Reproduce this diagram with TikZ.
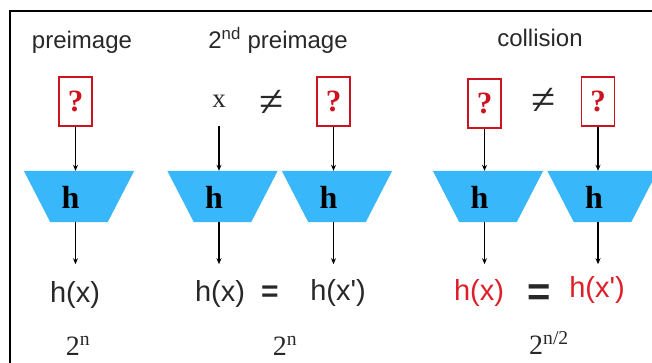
\documentclass[tikz,border=0pt]{standalone}
\usepackage{fontspec}
\setmainfont{Liberation Serif}
\newfontfamily\sansf{Liberation Sans}
\usetikzlibrary{arrows.meta,backgrounds}
\definecolor{hblue}{RGB}{56,184,250}
\definecolor{boxred}{RGB}{204,20,30}
\definecolor{txtred}{RGB}{222,30,40}
\definecolor{txtgray}{RGB}{40,40,40}
\begin{document}
\begin{tikzpicture}[x=1pt,y=-1pt,
  qbox/.style={draw=boxred,line width=1.4pt,minimum width=33pt,minimum height=49pt,inner sep=0pt,
    font=\fontsize{31}{31}\selectfont\bfseries,text=boxred},
  ghost/.style={minimum width=33pt,minimum height=49pt,inner sep=0pt},
  trapnode/.style={minimum width=110pt,minimum height=51pt,inner sep=0pt},
  hlab/.style={font=\fontsize{32}{32}\selectfont\bfseries,text=black},
  title/.style={font=\sansf\fontsize{24}{24}\selectfont,text=txtgray,anchor=base},
  hx/.style={font=\sansf\fontsize{29}{29}\selectfont,text=txtgray,anchor=base},
  hxr/.style={font=\sansf\fontsize{29}{29}\selectfont,text=txtred,anchor=base},
  cost/.style={font=\fontsize{28}{28}\selectfont,text=txtgray,anchor=base},
  rel/.style={font=\fontsize{44}{44}\selectfont,text=txtgray},
  arr/.style={-{Stealth[length=6pt,width=5pt]},line width=1.3pt,black}
]
\useasboundingbox (0,0) rectangle (652,363);
\draw[line width=1.2pt] (10,363) -- (10,11) -- (652,11);

% titles
\node[title] (T1) at (82,49) {preimage};
\node[title] (T2) at (278,49) {2\textsuperscript{nd} preimage};
\node[title] (T3) at (540,47) {collision};

% inputs
\node[qbox] (b1) at (75.5,101.5) {?};
\node[ghost,font=\fontsize{27}{27}\selectfont,text=txtgray] (x2) at (219,101.5) {x};
\node[rel] (ne1) at (272,103) {≠};
\node[qbox] (b2) at (333.5,101.5) {?};
\node[qbox] (b3) at (484.5,103.5) {?};
\node[rel] (ne2) at (544,101) {≠};
\node[qbox] (b4) at (598,101.5) {?};

% hash trapezoids
\foreach \n/\cx in {t1/79, t2/222.5, t3/337, t4/488, t5/602.5}{
  \node[trapnode] (\n) at (\cx,196.5) {};
  \begin{scope}[on background layer]
    \fill[hblue] (\n.north west) -- (\n.north east)
      -- ([xshift=-26.5pt]\n.south east) -- ([xshift=26.5pt]\n.south west) -- cycle;
  \end{scope}
  \node[hlab] at ([xshift=-8.5pt,yshift=-1pt]\n) {h};
}

% outputs
\node[hx] (o1) at (75,302) {h(x)};
\node[hx] (o2) at (220,301) {h(x)};
\node[font=\sansf\bfseries\fontsize{30}{30}\selectfont,text=txtgray] (eq1) at (270,294) {=};
\node[hx] (o3) at (338,300) {h(x')};
\node[hxr] (o4) at (479,300) {h(x)};
\node[font=\sansf\bfseries\fontsize{40}{40}\selectfont,text=txtgray] (eq2) at (539,295) {=};
\node[hxr] (o5) at (597,297) {h(x')};

% costs
\node[cost] (c1) at (78,355) {2\textsuperscript{n}};
\node[cost] (c2) at (285,355) {2\textsuperscript{n}};
\node[cost] (c3) at (549,354) {2\textsuperscript{n/2}};

% arrows in
\draw[arr] (b1.south) -- (b1.south |- t1.north);
\draw[arr] (x2.south) -- (x2.south |- t2.north);
\draw[arr] (b2.south) -- (b2.south |- t3.north);
\draw[arr] (b3.south) -- (b3.south |- t4.north);
\draw[arr] (b4.south) -- (b4.south |- t5.north);
% arrows out
\foreach \b/\t in {b1/t1, x2/t2, b2/t3, b3/t4, b4/t5}{
  \draw[arr] (\b.south |- \t.south) -- ([yshift=-42pt]\b.south |- \t.south);
}
\end{tikzpicture}
\end{document}
